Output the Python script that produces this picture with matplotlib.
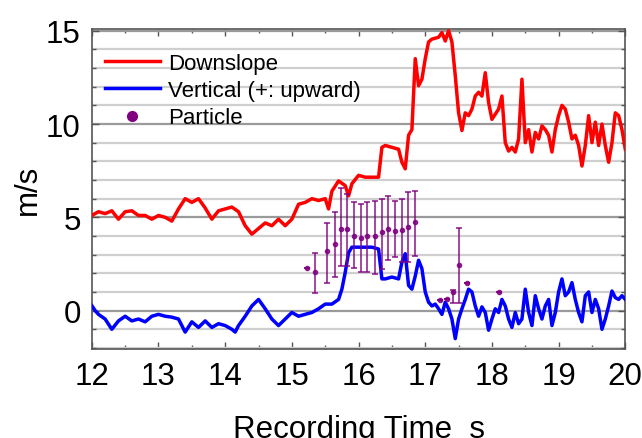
import matplotlib
matplotlib.use("Agg")
import matplotlib.pyplot as plt
from matplotlib.ticker import MultipleLocator

plt.rcParams['font.family'] = ['Liberation Sans', 'DejaVu Sans']

# Downslope (red) series
red_t = [12.0, 12.1, 12.2, 12.3, 12.4, 12.5, 12.6, 12.7, 12.8, 12.9, 13.0, 13.1, 13.2, 13.3,
         13.4, 13.5, 13.6, 13.7, 13.8, 13.9, 14.0, 14.1, 14.2, 14.3, 14.4, 14.5, 14.6, 14.7,
         14.8, 14.9, 15.0, 15.1, 15.2, 15.3, 15.4, 15.5, 15.55, 15.6, 15.7, 15.8, 15.85, 15.9,
         16.0, 16.1, 16.2, 16.3, 16.35, 16.4, 16.5, 16.6, 16.65, 16.7, 16.75, 16.8, 16.85,
         16.9, 16.95, 17.0, 17.05, 17.1, 17.2, 17.25, 17.3, 17.35, 17.4, 17.45, 17.5, 17.55,
         17.6, 17.65, 17.7, 17.75, 17.8, 17.85, 17.9, 17.95, 18.0, 18.1, 18.15, 18.2, 18.25,
         18.3, 18.35, 18.4, 18.45, 18.5, 18.55, 18.6, 18.65, 18.7, 18.75, 18.8, 18.85, 18.9,
         18.95, 19.0, 19.05, 19.1, 19.15, 19.2, 19.25, 19.3, 19.35, 19.4, 19.45, 19.5, 19.55,
         19.6, 19.65, 19.7, 19.75, 19.8, 19.85, 19.9, 19.95, 20.0]
red_v = [5.1, 5.3, 5.2, 5.35, 4.9, 5.3, 5.35, 5.1, 5.1, 4.9, 5.1, 5.0, 4.8, 5.45,
         6.0, 5.8, 6.0, 5.5, 4.9, 5.35, 5.45, 5.55, 5.3, 4.55, 4.1, 4.4, 4.7, 4.55,
         4.9, 4.55, 4.9, 5.7, 5.8, 6.0, 5.9, 6.0, 5.45, 6.4, 6.95, 6.7, 6.15, 6.8,
         7.25, 7.15, 7.15, 7.15, 8.75, 8.85, 8.75, 8.65, 7.95, 7.6, 9.4, 9.7, 13.5,
         12.05, 12.4, 13.5, 14.4, 14.55, 14.65, 14.9, 14.45, 15.0, 14.4, 12.6, 10.6, 9.65,
         10.6, 10.45, 10.8, 11.5, 11.7, 11.5, 12.75, 11.15, 10.25, 10.8, 11.5, 9.0, 8.55,
         8.75, 8.5, 9.2, 12.4, 9.0, 9.7, 8.5, 9.55, 9.2, 9.9, 9.7, 9.4, 8.5,
         9.7, 10.45, 11.0, 10.8, 10.1, 9.2, 9.4, 8.85, 7.75, 8.85, 10.45, 9.0, 10.1,
         8.85, 10.0, 8.85, 7.95, 9.0, 10.6, 10.45, 9.7, 8.65]

# Vertical (blue) series
blue_t = [12.0, 12.05, 12.1, 12.2, 12.3, 12.4, 12.5, 12.6, 12.7, 12.8, 12.9, 13.0, 13.1, 13.2,
          13.3, 13.4, 13.5, 13.6, 13.7, 13.8, 13.9, 14.0, 14.1, 14.15, 14.2, 14.3, 14.4, 14.5,
          14.6, 14.7, 14.8, 14.9, 15.0, 15.1, 15.2, 15.3, 15.4, 15.5, 15.6, 15.7, 15.75, 15.8,
          15.85, 15.9, 16.0, 16.1, 16.2, 16.3, 16.35, 16.4, 16.5, 16.6, 16.65, 16.7, 16.75,
          16.8, 16.85, 16.9, 16.95, 17.0, 17.05, 17.1, 17.15, 17.2, 17.25, 17.3, 17.35, 17.4,
          17.45, 17.5, 17.55, 17.6, 17.65, 17.7, 17.75, 17.8, 17.85, 17.9, 17.95, 18.0, 18.05,
          18.1, 18.15, 18.2, 18.25, 18.3, 18.35, 18.4, 18.45, 18.5, 18.55, 18.6, 18.65, 18.7,
          18.75, 18.8, 18.85, 18.9, 18.95, 19.0, 19.05, 19.1, 19.15, 19.2, 19.25, 19.3, 19.35,
          19.4, 19.45, 19.5, 19.55, 19.6, 19.65, 19.7, 19.75, 19.8, 19.85, 19.9, 19.95, 20.0]
blue_v = [0.27, 0.0, -0.2, -0.45, -1.0, -0.55, -0.3, -0.55, -0.45, -0.6, -0.3, -0.2, -0.3, -0.35,
          -0.45, -1.15, -0.6, -0.9, -0.55, -0.9, -0.7, -0.8, -1.0, -1.15, -0.8, -0.3, 0.25, 0.6,
          0.1, -0.45, -0.8, -0.45, -0.1, -0.3, -0.2, -0.1, 0.1, 0.35, 0.35, 0.6, 1.15, 2.05,
          3.1, 3.4, 3.4, 3.4, 3.4, 3.3, 1.7, 1.7, 1.8, 1.7, 2.6, 3.05, 1.35,
          1.15, 1.85, 2.7, 2.25, 1.0, 0.45, 0.25, 0.35, 0.1, -0.2, 0.45, 0.1, -0.45,
          -1.5, -0.45, 0.1, 0.6, 1.15, 1.0, 0.25, -0.3, 0.2, -0.1, -1.05, -0.45, 0.1,
          -0.1, 0.6, 0.25, -0.45, -0.9, -0.1, -0.7, -0.45, 1.15, -0.1, -0.8, 0.8, 0.1,
          -0.45, 0.25, 0.6, -0.8, -0.1, 1.0, 1.7, 0.8, 1.0, 1.5, 0.6, -0.1, -0.6,
          0.8, 1.0, -0.1, 0.6, 0.1, -1.0, -0.45, 0.25, 1.05, 0.7, 0.6, 0.8, 0.6]

# Particle velocities with error bars
part_t = [15.23, 15.35, 15.52, 15.64, 15.73, 15.83, 15.93, 16.03, 16.13, 16.24, 16.35, 16.44,
          16.55, 16.65, 16.74, 16.85, 17.22, 17.32, 17.42, 17.51, 17.63, 18.11]
part_v = [2.27, 2.05, 3.2, 3.55, 4.4, 4.4, 4.0, 3.9, 4.0, 4.0, 4.2, 4.4,
          4.25, 4.3, 4.5, 4.75, 0.55, 0.62, 1.0, 2.46, 1.49, 1.0]
part_hi = [2.27, 3.1, 4.7, 5.3, 6.55, 6.25, 5.8, 5.7, 5.8, 5.9, 6.0, 6.15,
           5.9, 6.0, 6.35, 6.4, 0.55, 0.62, 1.1, 4.45, 1.49, 1.0]
part_lo = [2.27, 0.95, 1.5, 1.8, 2.4, 2.4, 2.3, 2.05, 2.05, 1.95, 2.25, 2.7,
           2.85, 2.6, 2.6, 2.95, 0.55, 0.62, 0.4, 0.4, 1.49, 1.0]

fig = plt.figure(figsize=(6.42, 4.39), dpi=100)
ax = fig.add_axes([0.143, 0.203, 0.831, 0.729])

ax.plot(red_t, red_v, color='#ff0000', lw=2.5, label='Downslope', zorder=3)
ax.plot(blue_t, blue_v, color='#0000ff', lw=2.5, label='Vertical (+: upward)', zorder=3)

err_lo = [v - lo for v, lo in zip(part_v, part_lo)]
err_hi = [hi - v for v, hi in zip(part_v, part_hi)]
ax.errorbar(part_t, part_v, yerr=[err_lo, err_hi], fmt='o', color='#800080',
            ms=3, elinewidth=1.2, capsize=2.5, capthick=1.2, alpha=0.85, zorder=4)
ax.plot([], [], 'o', color='#800080', ms=7, label='Particle')

ax.set_xlim(12, 20)
ax.set_ylim(-2.05, 15.1)
ax.xaxis.set_major_locator(MultipleLocator(1))
ax.xaxis.set_minor_locator(MultipleLocator(0.5))
ax.yaxis.set_major_locator(MultipleLocator(5))
ax.yaxis.set_minor_locator(MultipleLocator(1))

ax.grid(which='minor', axis='y', color='#cfcfcf', lw=1.6, zorder=0)
ax.grid(which='major', axis='y', color='#9a9a9a', lw=1.6, zorder=0)
ax.set_axisbelow(True)

ax.tick_params(which='both', direction='in', top=True, right=True, labelsize=22.5,
               color='#555555')
ax.tick_params(which='major', length=5, width=1)
ax.tick_params(which='minor', length=3, width=1)
ax.tick_params(axis='x', pad=9)
ax.tick_params(axis='y', pad=8)
for s in ax.spines.values():
    s.set_color('#555555')
    s.set_linewidth(1.2)

ax.set_ylabel('m/s', fontsize=22.5, labelpad=2)
ax.set_xlabel('Recording Time  s', fontsize=22.5, labelpad=16)

handles, labels = ax.get_legend_handles_labels()
ax.legend(handles, labels, loc='upper left', frameon=False, fontsize=16,
          handlelength=2.5, borderaxespad=0.0, borderpad=0.0, labelspacing=0.28,
          bbox_to_anchor=(0.024, 0.925), handletextpad=0.35)

fig.savefig('out.png', dpi=100)
